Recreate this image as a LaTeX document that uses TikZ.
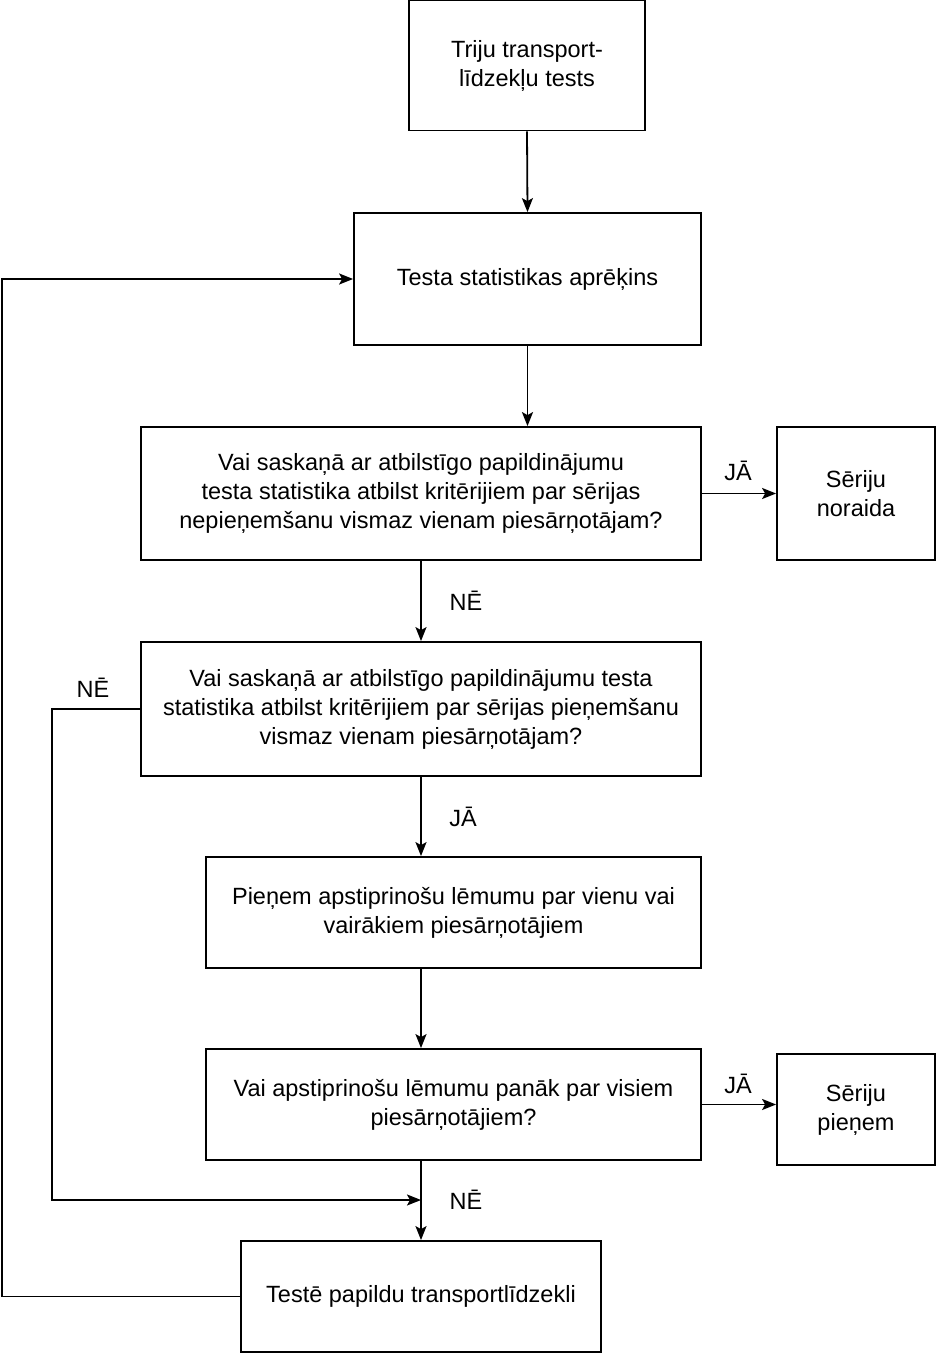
\documentclass[tikz,border=0pt]{standalone}
\usepackage{fontspec}
\setmainfont{Liberation Sans}
\usetikzlibrary{arrows.meta}
\begin{document}
\begin{tikzpicture}[x=1pt,y=-1pt,
  box/.style={draw,line width=1.8pt,align=center,inner sep=0pt,
    font=\fontsize{23.5}{29}\selectfont},
  lbl/.style={font=\fontsize{23.5}{29}\selectfont},
  conn/.style={line width=1.8pt},
  arr/.style={conn,-{Stealth[length=14pt,width=11pt,inset=3pt]}}]
\useasboundingbox (0,0) rectangle (936,1353);
\node[box,minimum width=236pt,minimum height=130pt] (b1) at (527,65.5) {Triju transport-\\līdzekļu tests};
\node[box,minimum width=347pt,minimum height=132pt] (b2) at (527.5,279) {Testa statistikas aprēķins};
\node[box,minimum width=560pt,minimum height=133pt] (b3) at (421,493.5) {Vai saskaņā ar atbilstīgo papildinājumu\\testa statistika atbilst kritērijiem par sērijas\\nepieņemšanu vismaz vienam piesārņotājam?};
\node[box,minimum width=158pt,minimum height=133pt] (nor) at (856,493.5) {Sēriju\\noraida};
\node[box,minimum width=560pt,minimum height=134pt] (b4) at (421,709) {Vai saskaņā ar atbilstīgo papildinājumu testa\\statistika atbilst kritērijiem par sērijas pieņemšanu\\vismaz vienam piesārņotājam?};
\node[box,minimum width=495pt,minimum height=111pt] (b5) at (453.5,912.5) {Pieņem apstiprinošu lēmumu par vienu vai\\vairākiem piesārņotājiem};
\node[box,minimum width=495pt,minimum height=111pt] (b6) at (453.5,1104.5) {Vai apstiprinošu lēmumu panāk par visiem\\piesārņotājiem?};
\node[box,minimum width=158pt,minimum height=111pt] (pie) at (856,1109.5) {Sēriju\\pieņem};
\node[box,minimum width=360pt,minimum height=111pt] (b7) at (421,1296.5) {Testē papildu transportlīdzekli};
\coordinate (j) at (421,1200);
\coordinate (l1) at (52,709);
\coordinate (l2) at (52,1200);
\coordinate (r1) at (2,1296.5);
\coordinate (r2) at (2,279);
\draw[arr] (b1.south) -- (b2.north);
\draw[arr] (b2.south) -- (b2.south |- b3.north);
\draw[arr] (b3.south) -- (b4.north);
\draw[arr] (b4.south) -- (b4.south |- b5.north);
\draw[arr] (b4.south |- b5.south) -- (b4.south |- b6.north);
\draw[arr] (b4.south |- b6.south) -- (b7.north);
\draw[arr] (b4.west) -- (l1) -- (l2) -- (j);
\draw[arr] (b7.west) -- (r1) -- (r2) -- (b2.west);
\draw[arr] (b3.east) -- (nor.west);
\draw[arr] (b6.east) -- (b6.east -| pie.west);
\node[lbl] (t1) at (466,601) {NĒ};
\node[lbl] (t2) at (463,817) {JĀ};
\node[lbl] (t3) at (738,471) {JĀ};
\node[lbl] (t4) at (738,1084) {JĀ};
\node[lbl] (t5) at (466,1200) {NĒ};
\node[lbl] (t6) at (93,688) {NĒ};
\end{tikzpicture}
\end{document}
